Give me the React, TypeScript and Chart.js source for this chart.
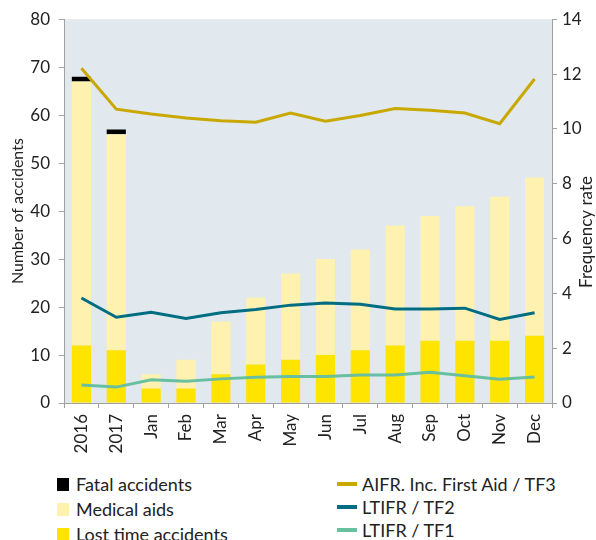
import React, { useEffect, useRef } from "react";
import { Chart, registerables } from "chart.js";

Chart.register(...registerables);

const categories = ["2016", "2017", "Jan", "Feb", "Mar", "Apr", "May", "Jun", "Jul", "Aug", "Sep", "Oct", "Nov", "Dec"];
const lostTime = [12, 11, 3, 3, 6, 8, 9, 10, 11, 12, 13, 13, 13, 14];
const medicalAids = [55, 45, 3, 6, 11, 14, 18, 20, 21, 25, 26, 28, 30, 33];
const fatal = [1, 1, 0, 0, 0, 0, 0, 0, 0, 0, 0, 0, 0, 0];
const aifr = [12.21, 10.72, 10.54, 10.4, 10.3, 10.24, 10.58, 10.28, 10.49, 10.74, 10.68, 10.58, 10.19, 11.82];
const ltifrTF2 = [3.83, 3.13, 3.31, 3.08, 3.29, 3.41, 3.57, 3.65, 3.6, 3.43, 3.43, 3.46, 3.05, 3.29];
const ltifrTF1 = [0.66, 0.58, 0.85, 0.79, 0.88, 0.94, 0.97, 0.97, 1.02, 1.02, 1.12, 0.99, 0.87, 0.95];
const leftTicks = { min: 0, max: 80, step: 10 };
const rightTicks = { min: 0, max: 14, step: 2 };

const C = {
  lt: "#ffe400",
  med: "#fff2b0",
  fatal: "#000000",
  aifr: "#c9a800",
  tf2: "#006e82",
  tf1: "#68c0a0",
  bg: "#e1e8ee",
  axis: "#a0a0a0",
  text: "#222222",
};
const FONT = "Lato";

const legendLeft = [
  { label: "Fatal accidents", color: C.fatal },
  { label: "Medical aids", color: C.med },
  { label: "Lost time accidents", color: C.lt },
];
const legendRight = [
  { label: "AIFR. Inc. First Aid / TF3", color: C.aifr },
  { label: "LTIFR / TF2", color: C.tf2 },
  { label: "LTIFR / TF1", color: C.tf1 },
];

export default function App() {
  const ref = useRef<HTMLCanvasElement>(null);
  useEffect(() => {
    document.body.style.margin = "0";
    const bgPlugin = {
      id: "bg",
      beforeDraw(chart: any) {
        const { ctx, chartArea } = chart;
        ctx.save();
        ctx.fillStyle = C.bg;
        ctx.fillRect(chartArea.left, chartArea.top, chartArea.right - chartArea.left, chartArea.bottom - chartArea.top);
        ctx.restore();
      },
      afterDraw(chart: any) {
        const { ctx } = chart;
        ctx.save();
        ctx.translate(587, 232);
        ctx.rotate(-Math.PI / 2);
        ctx.fillStyle = C.text;
        ctx.font = `17px ${FONT}`;
        ctx.textAlign = "center";
        ctx.textBaseline = "middle";
        ctx.fillText("Frequency rate", 0, 0);
        ctx.restore();
      },
    };
    const chart = new Chart(ref.current!, {
      type: "bar",
      data: {
        labels: categories,
        datasets: [
          { type: "line", label: "AIFR. Inc. First Aid / TF3", data: aifr, yAxisID: "y1", borderColor: C.aifr, borderWidth: 3, pointRadius: 0, order: 0 },
          { type: "line", label: "LTIFR / TF2", data: ltifrTF2, yAxisID: "y1", borderColor: C.tf2, borderWidth: 3, pointRadius: 0, order: 0 },
          { type: "line", label: "LTIFR / TF1", data: ltifrTF1, yAxisID: "y1", borderColor: C.tf1, borderWidth: 3, pointRadius: 0, order: 0 },
          { label: "Lost time accidents", data: lostTime, backgroundColor: C.lt, yAxisID: "y", stack: "a", order: 1 },
          { label: "Medical aids", data: medicalAids, backgroundColor: C.med, yAxisID: "y", stack: "a", order: 2 },
          { label: "Fatal accidents", data: fatal, backgroundColor: C.fatal, yAxisID: "y", stack: "a", order: 3 },
        ] as any,
      },
      options: {
        animation: false,
        responsive: false,
        maintainAspectRatio: false,
        layout: { padding: { top: 17, left: 0, right: 0, bottom: 0 } },
        datasets: { bar: { barPercentage: 0.55, categoryPercentage: 1 } } as any,
        plugins: { legend: { display: false }, tooltip: { enabled: false } },
        scales: {
          x: {
            stacked: true,
            grid: { display: true, drawOnChartArea: false, color: C.axis, tickLength: 5, offset: true },
            border: { display: true, color: C.axis, width: 1 },
            ticks: { color: C.text, font: { family: FONT, size: 17 }, minRotation: 90, maxRotation: 90, padding: 6 },
            afterFit(s: any) { s.height = 67; },
          },
          y: {
            position: "left",
            stacked: true,
            min: leftTicks.min,
            max: leftTicks.max,
            grid: { display: true, drawOnChartArea: false, color: C.axis, tickLength: 5 },
            border: { display: true, color: C.axis, width: 1 },
            ticks: { stepSize: leftTicks.step, color: C.text, font: { family: FONT, size: 17 }, padding: 9 },
            title: { display: true, text: "Number of accidents", color: C.text, font: { family: FONT, size: 16 }, padding: { top: 8, bottom: 0 } },
            afterFit(s: any) { s.width = 64; },
          },
          y1: {
            position: "right",
            min: rightTicks.min,
            max: rightTicks.max,
            grid: { display: true, drawOnChartArea: false, color: C.axis, tickLength: 5 },
            border: { display: true, color: C.axis, width: 1 },
            ticks: { stepSize: rightTicks.step, color: C.text, font: { family: FONT, size: 17 }, padding: 5 },
            afterFit(s: any) { s.width = 44; },
          },
        },
      },
      plugins: [bgPlugin],
    });
    return () => chart.destroy();
  }, []);

  const textStyle: React.CSSProperties = { position: "absolute", fontFamily: FONT, fontSize: 18, color: C.text, lineHeight: "22px", whiteSpace: "nowrap" };
  return (
    <div style={{ position: "relative", width: 596, height: 540, background: "#fff", overflow: "hidden" }}>
      <canvas ref={ref} width={596} height={470} style={{ display: "block", width: 596, height: 470 }} />
      {legendLeft.map((it, i) => (
        <React.Fragment key={it.label}>
          <div style={{ position: "absolute", left: 57, top: 478 + i * 25, width: 12, height: 13, background: it.color }} />
          <div style={{ ...textStyle, left: 76, top: 473 + i * 25 }}>{it.label}</div>
        </React.Fragment>
      ))}
      {legendRight.map((it, i) => (
        <React.Fragment key={it.label}>
          <div style={{ position: "absolute", left: 337, top: 482 + i * 23, width: 20, height: 4, background: it.color }} />
          <div style={{ ...textStyle, left: 362, top: 473 + i * 23 }}>{it.label}</div>
        </React.Fragment>
      ))}
    </div>
  );
}
